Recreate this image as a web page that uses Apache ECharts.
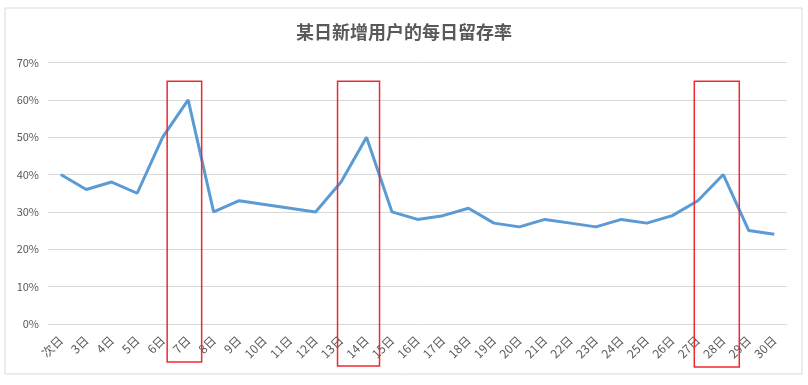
<!DOCTYPE html>
<html>
<head>
<meta charset="utf-8">
<script src="https://cdn.jsdelivr.net/npm/echarts@6/dist/echarts.min.js"></script>
<style>
html,body{margin:0;padding:0;background:#fff;}
#c{width:808px;height:385px;}
</style>
</head>
<body>
<div id="c"></div>
<script>
const titleText = '某日新增用户的每日留存率';
const categories = ['次日','3日','4日','5日','6日','7日','8日','9日','10日','11日','12日','13日','14日','15日','16日','17日','18日','19日','20日','21日','22日','23日','24日','25日','26日','27日','28日','29日','30日'];
const retention = [40,36,38,35,50,60,30,33,32,31,30,38,50,30,28,29,31,27,26,28,27,26,28,27,29,33,40,25,24];
const yTicks = [0,10,20,30,40,50,60,70];
const highlightDays = ['7日','14日','28日'];

const FONT = '"Noto Sans CJK SC", "Noto Sans", sans-serif';
const chart = echarts.init(document.getElementById('c'), null, {renderer:'canvas'});
const option = {
  backgroundColor: '#fff',
  animation: false,
  title: {
    text: titleText,
    left: 'center',
    top: 18,
    textStyle: {fontFamily: FONT, fontSize: 18, fontWeight: 'bold', color: '#595959'}
  },
  grid: {left: 48, right: 21, top: 62.5, bottom: 61, containLabel: false},
  xAxis: {
    type: 'category',
    data: categories,
    boundaryGap: true,
    axisLine: {show: true, lineStyle: {color: '#d9d9d9'}},
    axisTick: {show: false},
    axisLabel: {rotate: 45, interval: 0, margin: 14, fontFamily: FONT, fontSize: 12, color: '#595959'}
  },
  yAxis: {
    type: 'value',
    min: yTicks[0],
    max: yTicks[yTicks.length - 1],
    interval: 10,
    axisLine: {show: false},
    axisTick: {show: false},
    axisLabel: {formatter: '{value}%', margin: 9, fontFamily: FONT, fontSize: 11, color: '#595959'},
    splitLine: {lineStyle: {color: '#d9d9d9', width: 1}}
  },
  series: [{
    type: 'line',
    data: retention,
    symbol: 'none',
    lineStyle: {color: '#5B9BD5', width: 3},
    itemStyle: {color: '#5B9BD5'}
  }]
};
chart.setOption(option);

// Annotation boxes around highlighted days (offsets relative to category centre)
const boxStyle = [
  {dl: -21, dr: 13.5, bottom: 362},
  {dl: -29, dr: 13, bottom: 366},
  {dl: -29, dr: 16, bottom: 367}
];
const topY = chart.convertToPixel({yAxisIndex: 0}, 65);
const graphics = [{
  type: 'rect',
  shape: {x: 5, y: 8, width: 797, height: 366},
  style: {fill: 'none', stroke: '#d9d9d9', lineWidth: 1},
  silent: true
}];
highlightDays.forEach((d, i) => {
  const cx = chart.convertToPixel({xAxisIndex: 0}, d);
  const s = boxStyle[i];
  graphics.push({
    type: 'rect',
    shape: {x: cx + s.dl, y: topY, width: s.dr - s.dl, height: s.bottom - topY},
    style: {fill: 'none', stroke: '#ee2a30', lineWidth: 1.5},
    z: 100
  });
});
chart.setOption({graphic: graphics});
</script>
</body>
</html>
